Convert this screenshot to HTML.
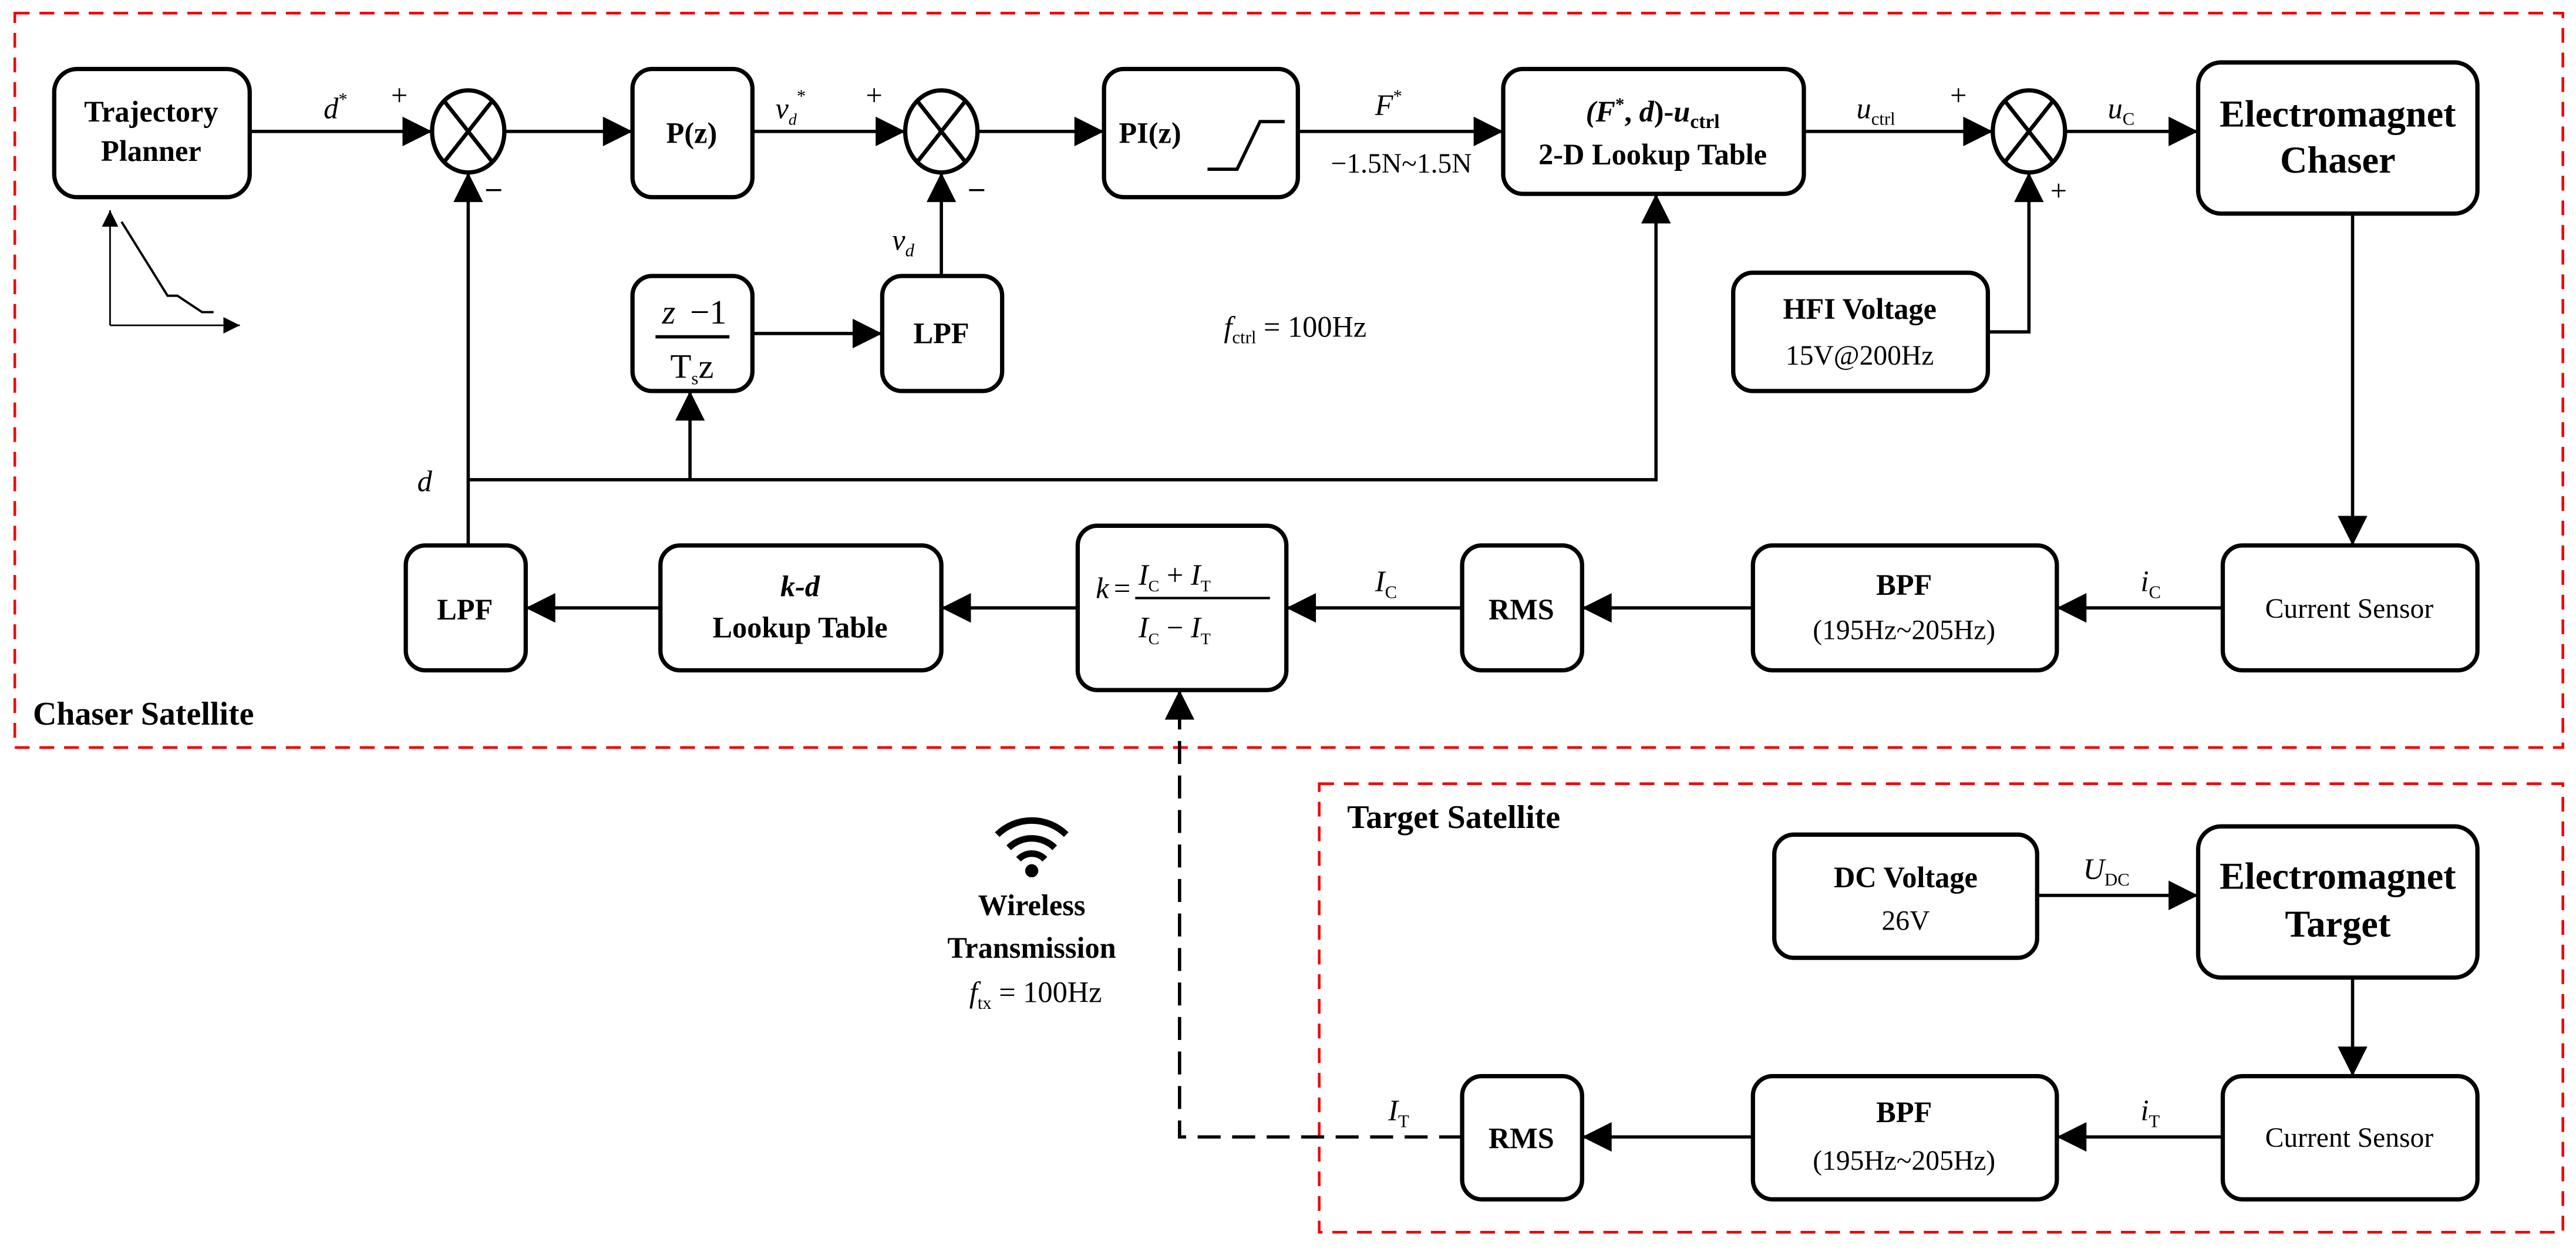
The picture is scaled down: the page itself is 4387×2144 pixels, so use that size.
<!DOCTYPE html>
<html><head><meta charset="utf-8"><style>html,body{margin:0;padding:0;background:#fff}svg{display:block}</style></head>
<body>
<svg width="4387" height="2144" viewBox="0 0 1568 766.3" preserveAspectRatio="none" xmlns="http://www.w3.org/2000/svg" font-family="Liberation Serif, serif">
<defs>
<marker id="a" viewBox="0 0 10 10" refX="10" refY="5" markerWidth="10" markerHeight="10" markerUnits="userSpaceOnUse" orient="auto"><path d="M0,0 L10,5 L0,10 z" fill="#000"/></marker>
<marker id="A" viewBox="0 0 10 10" refX="10" refY="5" markerWidth="22" markerHeight="18" markerUnits="userSpaceOnUse" orient="auto"><path d="M0,0 L10,5 L0,10 z" fill="#000"/></marker>
</defs>
<g fill="none" stroke="#e00" stroke-width="1.6" stroke-dasharray="9,6">
<rect x="9" y="8" width="1551" height="447"/>
<rect x="803" y="477" width="757" height="273"/>
</g>
<g fill="#fff" stroke="#000" stroke-width="2.6">
<rect x="33" y="42" width="119" height="78" rx="14"/>
<rect x="385" y="42" width="73" height="78" rx="12"/>
<rect x="672" y="42" width="118" height="78" rx="12"/>
<rect x="915" y="42" width="183" height="76" rx="12"/>
<rect x="1338" y="38" width="170" height="92" rx="14"/>
<rect x="1055" y="166" width="155" height="72" rx="12"/>
<rect x="385" y="168" width="73" height="70" rx="12"/>
<rect x="537" y="168" width="73" height="70" rx="12"/>
<rect x="247" y="332" width="73" height="76" rx="12"/>
<rect x="402" y="332" width="171" height="76" rx="12"/>
<rect x="656" y="320" width="127" height="100" rx="12"/>
<rect x="890" y="332" width="73" height="76" rx="12"/>
<rect x="1067" y="332" width="185" height="76" rx="12"/>
<rect x="1353" y="332" width="155" height="76" rx="12"/>
<rect x="1080" y="508" width="160" height="75" rx="12"/>
<rect x="1338" y="503" width="170" height="92" rx="14"/>
<rect x="1353" y="655" width="155" height="75" rx="12"/>
<rect x="1067" y="655" width="185" height="75" rx="12"/>
<rect x="890" y="655" width="73" height="75" rx="12"/>
<ellipse cx="285" cy="80" rx="22" ry="25"/>
<ellipse cx="573" cy="80" rx="22" ry="25"/>
<ellipse cx="1235" cy="80" rx="22" ry="25"/>
</g>
<g stroke="#000" stroke-width="2.4">
<path d="M270,61 L300,99 M300,61 L270,99 M558,61 L588,99 M588,61 L558,99 M1220,61 L1250,99 M1250,61 L1220,99"/>
</g>
<g stroke="#000" stroke-width="2" fill="none" marker-end="url(#A)">
<path d="M152,80 H263"/>
<path d="M307,80 H385"/>
<path d="M458,80 H551"/>
<path d="M595,80 H672"/>
<path d="M790,80 H915"/>
<path d="M1098,80 H1213"/>
<path d="M1257,80 H1338"/>
<path d="M285,332 V105"/>
<path d="M573,168 V105"/>
<path d="M458,203 H537"/>
<path d="M285,292 H1008 V118"/>
<path d="M420,292 V238"/>
<path d="M1210,202 H1235 V105"/>
<path d="M1432,130 V332"/>
<path d="M1353,370 H1252"/>
<path d="M1067,370 H963"/>
<path d="M890,370 H783"/>
<path d="M656,370 H573"/>
<path d="M402,370 H320"/>
<path d="M1240,545 H1338"/>
<path d="M1432,595 V655"/>
<path d="M1353,692 H1252"/>
<path d="M1067,692 H963"/>
<path d="M890,692 H718 V420" stroke-dasharray="14,7"/>
</g>
<path d="M735,103 H753 L767,74 H782" fill="none" stroke="#000" stroke-width="2"/>
<g stroke="#000" stroke-width="1" fill="none">
<path d="M67,198 V128" marker-end="url(#a)"/>
<path d="M67,198 H146" marker-end="url(#a)"/>
<path d="M74,135 L102,180 H108 L123,190 H130" stroke-width="1.4"/>
</g>
<g fill="none" stroke="#000" stroke-width="4" stroke-linecap="butt">
<path d="M607,508 A30,30 0 0 1 649,508"/>
<path d="M614,516 A20,20 0 0 1 642,516"/>
<path d="M620,523 A11,11 0 0 1 636,523"/>
</g>
<circle cx="628" cy="530" r="4" fill="#000"/>
<g font-weight="bold" font-size="18" text-anchor="middle" fill="#000">
<text x="92" y="74">Trajectory</text><text x="92" y="98">Planner</text>
<text x="421" y="87">P(z)</text>
<text x="700" y="87">PI(z)</text>
<text x="1006" y="74"><tspan font-style="italic">(F</tspan><tspan font-size="11" dy="-7">*</tspan><tspan dy="7">, </tspan><tspan font-style="italic">d</tspan>)-<tspan font-style="italic">u</tspan><tspan font-size="12" dy="4">ctrl</tspan></text>
<text x="1006" y="100">2-D Lookup Table</text>
<text x="1423" y="77" font-size="23">Electromagnet</text><text x="1423" y="105" font-size="23">Chaser</text>
<text x="1132" y="194">HFI Voltage</text>
<text x="573" y="209">LPF</text>
<text x="283" y="377">LPF</text>
<text x="487" y="363" font-style="italic">k-d</text><text x="487" y="388">Lookup Table</text>
<text x="926" y="377">RMS</text>
<text x="1159" y="362">BPF</text>
<text x="1160" y="540">DC Voltage</text>
<text x="1423" y="541" font-size="23">Electromagnet</text><text x="1423" y="570" font-size="23">Target</text>
<text x="1159" y="683">BPF</text>
<text x="926" y="699">RMS</text>
<text x="628" y="557">Wireless</text><text x="628" y="583">Transmission</text>
</g>
<g font-weight="bold" font-size="20" fill="#000">
<text x="20" y="441">Chaser Satellite</text>
<text x="820" y="504">Target Satellite</text>
</g>
<g font-size="17" text-anchor="middle" fill="#000">
<text x="1132" y="222">15V@200Hz</text>
<text x="1159" y="389">(195Hz~205Hz)</text>
<text x="1160" y="566">26V</text>
<text x="1159" y="712">(195Hz~205Hz)</text>
<text x="1430" y="376">Current Sensor</text>
<text x="1430" y="698">Current Sensor</text>
<text x="853" y="105">−1.5N~1.5N</text>
</g>
<g font-size="21" fill="#000">
<text x="403" y="197" font-style="italic">z</text><text x="420" y="197">−1</text>
<text x="408" y="230">T<tspan font-size="11" dy="4">s</tspan><tspan dy="-4">z</tspan></text>
</g>
<line x1="399" y1="205" x2="444" y2="205" stroke="#000" stroke-width="2"/>
<g font-size="18" fill="#000" font-style="italic">
<text x="197" y="72">d<tspan font-size="11" dy="-8" font-style="normal">*</tspan></text>
<text x="472" y="72">v<tspan font-size="10" dy="4">d</tspan><tspan font-size="11" dy="-14" font-style="normal">*</tspan></text>
<text x="837" y="70">F<tspan font-size="11" dy="-8" font-style="normal">*</tspan></text>
<text x="1130" y="72">u<tspan font-size="11" dy="4" font-style="normal">ctrl</tspan></text>
<text x="1283" y="72">u<tspan font-size="11" dy="4" font-style="normal">C</tspan></text>
<text x="543" y="152">v<tspan font-size="11" dy="4">d</tspan></text>
<text x="254" y="299">d</text>
<text x="745" y="205">f<tspan font-size="11" dy="4" font-style="normal">ctrl</tspan><tspan dy="-4" font-style="normal"> = 100Hz</tspan></text>
<text x="837" y="360">I<tspan font-size="11" dy="4" font-style="normal">C</tspan></text>
<text x="1303" y="360">i<tspan font-size="11" dy="4" font-style="normal">C</tspan></text>
<text x="845" y="682">I<tspan font-size="11" dy="4" font-style="normal">T</tspan></text>
<text x="1303" y="682">i<tspan font-size="11" dy="4" font-style="normal">T</tspan></text>
<text x="1268" y="535">U<tspan font-size="11" dy="4" font-style="normal">DC</tspan></text>
<text x="590" y="610">f<tspan font-size="11" dy="4" font-style="normal">tx</tspan><tspan dy="-4" font-style="normal"> = 100Hz</tspan></text>
<text x="667" y="364">k</text><text x="678" y="364" font-style="normal">=</text>
<text x="693" y="356">I<tspan font-size="10" dy="4" font-style="normal">C</tspan><tspan dy="-4" font-style="normal"> + </tspan>I<tspan font-size="10" dy="4" font-style="normal">T</tspan></text>
<text x="693" y="388">I<tspan font-size="10" dy="4" font-style="normal">C</tspan><tspan dy="-4" font-style="normal"> − </tspan>I<tspan font-size="10" dy="4" font-style="normal">T</tspan></text>
</g>
<line x1="691" y1="364" x2="773" y2="364" stroke="#000" stroke-width="1.5"/>
<g font-size="18" fill="#000">
<text x="238" y="64">+</text><text x="296" y="120" font-weight="bold">–</text>
<text x="527" y="64">+</text><text x="590" y="120" font-weight="bold">–</text>
<text x="1187" y="64">+</text><text x="1248" y="122">+</text>
</g>
</svg>
</body></html>
